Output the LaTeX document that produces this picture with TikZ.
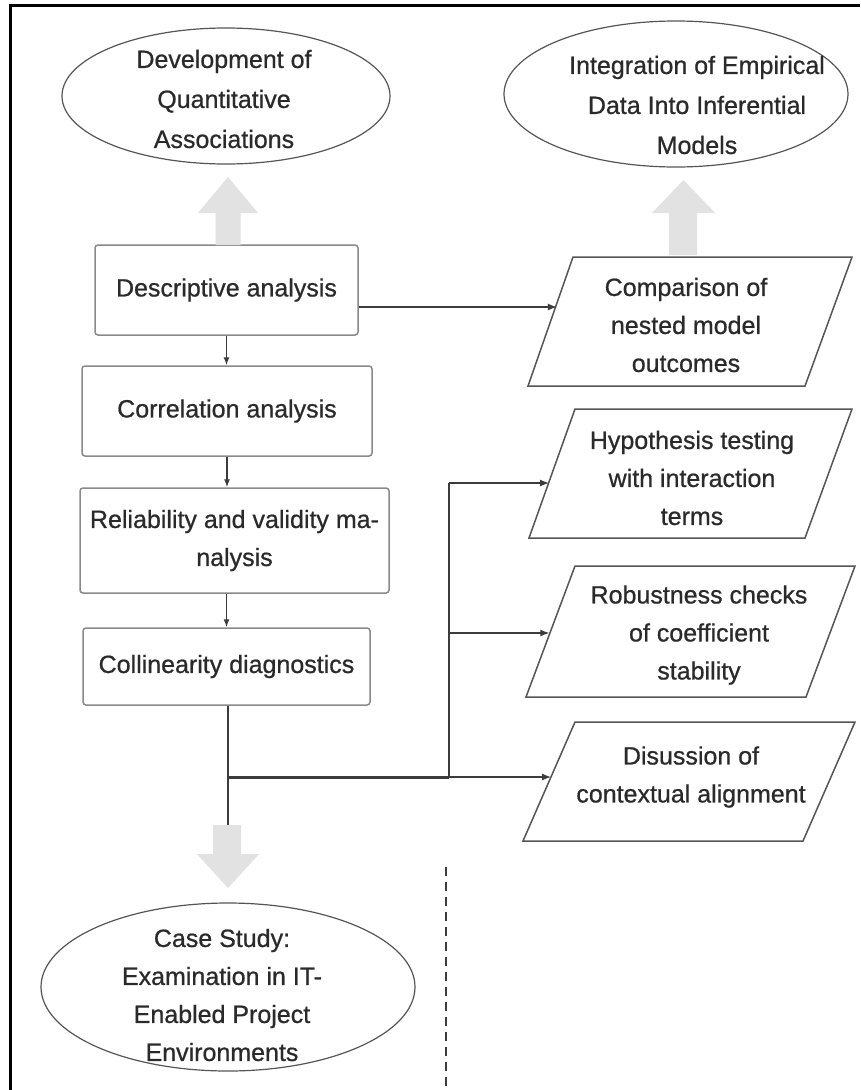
\documentclass[tikz,border=0pt]{standalone}
\usepackage{fontspec}
\setmainfont{Liberation Sans}[FakeBold=0.7]
\usetikzlibrary{shapes.geometric,arrows.meta,calc}
\definecolor{ink}{HTML}{2A2A2A}
\definecolor{boxline}{HTML}{8A8A8A}
\definecolor{shapeline}{HTML}{555555}
\definecolor{wire}{HTML}{3C3C3C}
\definecolor{blockfill}{HTML}{E2E2E2}

\begin{document}
\begin{tikzpicture}[x=1pt,y=-1pt,
  lbl/.style={font=\fontsize{25}{38}\selectfont, text=ink, align=center, inner sep=0pt},
  ovaltext/.style={lbl, font=\fontsize{25}{40}\selectfont},
  stepbox/.style={lbl, draw=boxline, line width=1.5pt, rounded corners=3pt},
  oval/.style={ellipse, draw=shapeline, line width=1.2pt, inner sep=0pt},
  pbox/.style={draw=shapeline, line width=1.5pt, line join=miter},
  conn/.style={draw=wire, line width=1.2pt},
  arr/.style={conn, -{Latex[length=9pt,width=7pt]}},
  smallarr/.style={conn, -{Latex[length=8pt,width=6pt]}},
  block/.style={fill=blockfill, draw=none}]

\useasboundingbox (0,0) rectangle (860,1090);
\fill[white] (0,0) rectangle (860,1090);
% frame: top and left rules
\draw[black, line width=3pt] (10,1090) -- (10,5) -- (860,5);

% outcome ovals
\node[oval, minimum width=328pt, minimum height=136pt] (dev) at (226,96) {};
\node[ovaltext] (devtext) at (224,99) {Development of\\Quantitative\\Associations};
\node[oval, minimum width=344pt, minimum height=146pt] (integ) at (676,94) {};
\node[ovaltext] (integtext) at (697,105) {Integration of Empirical\\Data Into Inferential\\Models};
\node[oval, minimum width=374pt, minimum height=168pt] (case) at (228,987) {};
\node[lbl] (casetext) at (222,995) {Case Study:\\Examination in IT-\\Enabled Project\\Environments};

% analysis steps
\node[stepbox, minimum width=263pt, minimum height=90pt] (desc) at (226.5,290) {Descriptive analysis};
\node[stepbox, minimum width=290pt, minimum height=90pt] (corr) at (227,411) {Correlation analysis};
\node[stepbox, minimum width=309pt, minimum height=105pt] (rel) at (234.5,540.5) {Reliability and validity ma-\\nalysis};
\node[stepbox, minimum width=287pt, minimum height=77pt] (col) at (226.5,666.5) {Collinearity diagnostics};

% modelling stages: slanted boxes drawn around their labels
\node[lbl] (cmp) at (686,325) {Comparison of\\nested model\\outcomes};
\draw[pbox] (528,386) -- (805,386) -- (852,257) -- (573,257) -- cycle;
\node[lbl] (hyp) at (692,478) {Hypothesis testing\\with interaction\\terms};
\draw[pbox] (529,538) -- (805,538) -- (852,409) -- (575,409) -- cycle;
\node[lbl] (rob) at (699,635) {Robustness checks\\of coefficient\\stability};
\draw[pbox] (526,697) -- (806,697) -- (855,566) -- (575,566) -- cycle;
\node[lbl] (disc) at (691,777) {Disussion of\\contextual alignment};
\draw[pbox] (523,841) -- (803,841) -- (855,722) -- (575,722) -- cycle;

% entry points on the slanted edges
\coordinate (cmpin) at (556.8,307);
\coordinate (hypin) at (549,483);
\coordinate (robin) at (549.3,633);
\coordinate (discin) at (551,777);

% broad grey arrows
\fill[block] (215.5,245) -- (215.5,213) -- (198,213) -- (228,177) -- (258,213) -- (240.5,213) -- (240.5,245) -- cycle;
\fill[block] (669,255) -- (669,213) -- (652,213) -- (683.5,180) -- (715,213) -- (697,213) -- (697,255) -- cycle;
\fill[block] (213,825) -- (241,825) -- (241,854) -- (259,854) -- (228,888) -- (197,854) -- (213,854) -- cycle;

% step sequence
\draw[smallarr] (desc.south) -- (desc.south |- corr.north);
\draw[smallarr] (corr.south) -- (corr.south |- rel.north);
\draw[smallarr] (desc.south |- rel.south) -- (desc.south |- col.north);

% branches to the modelling stages
\draw[arr] (desc.east |- cmpin) -- (cmpin);

\coordinate (dtop) at (228,825);
\coordinate (j1) at (228,777);
\coordinate (j2) at (449,777);
\coordinate (j3) at (449,483);
\coordinate (j4) at (449,633);
\draw[conn] (col.south -| dtop) -- (dtop);
\draw[wire, line width=3pt] (j1) -- (j2);
\draw[conn] (j2) -- (j3);
\draw[arr] (j3) -- (hypin);
\draw[arr] (j4) -- (robin);
\draw[arr] (j2) -- (discin);

% dashed divider
\coordinate (d1) at (446,867);
\coordinate (d2) at (446,1090);
\draw[wire, line width=1.3pt, dash pattern=on 9pt off 6pt] (d1) -- (d2);
\end{tikzpicture}
\end{document}
